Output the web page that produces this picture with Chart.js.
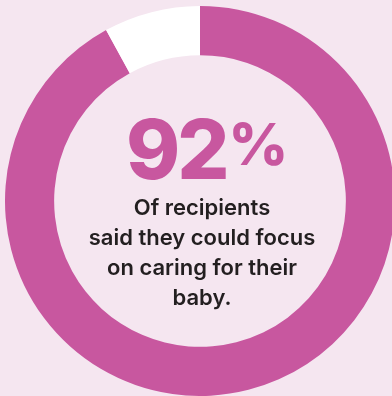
<!DOCTYPE html>
<html>
<head>
<meta charset="utf-8">
<script src="https://cdn.jsdelivr.net/npm/chart.js@4"></script>
<style>
  html,body{margin:0;padding:0;}
  body{width:392px;height:396px;overflow:hidden;background:#f5e6f0;position:relative;font-family:Inter,"Noto Sans",sans-serif;}
  #wrap{position:absolute;left:5px;top:6px;width:390px;height:390px;}
  #big{position:absolute;left:0;width:414px;top:96px;text-align:center;color:#c8579f;font-weight:800;font-size:82px;line-height:96px;letter-spacing:-3px;}
  #big span{font-size:58px;vertical-align:14px;letter-spacing:0;margin-left:2px;}
  #msg{position:absolute;left:0;width:404px;top:192px;text-align:center;color:#231f20;font-weight:600;font-size:22px;line-height:30px;}
</style>
</head>
<body>
<div id="wrap"><canvas id="donut" width="390" height="390"></canvas></div>
<div id="big">92<span>%</span></div>
<div id="msg">Of recipients<br>said they could focus<br>on caring for their<br>baby.</div>
<script>
const labels=['Could focus on caring for their baby','Other'];
const values=[92,8];
const colors=['#c8579f','#ffffff'];

const ctx=document.getElementById('donut').getContext('2d');
new Chart(ctx,{
  type:'doughnut',
  data:{labels:labels,datasets:[{data:values,backgroundColor:colors,borderWidth:0,hoverOffset:0}]},
  options:{
    responsive:false,
    animation:false,
    cutout:'74.8%',
    plugins:{legend:{display:false},tooltip:{enabled:false}},
    layout:{padding:0}
  }
});
</script>
</body>
</html>
